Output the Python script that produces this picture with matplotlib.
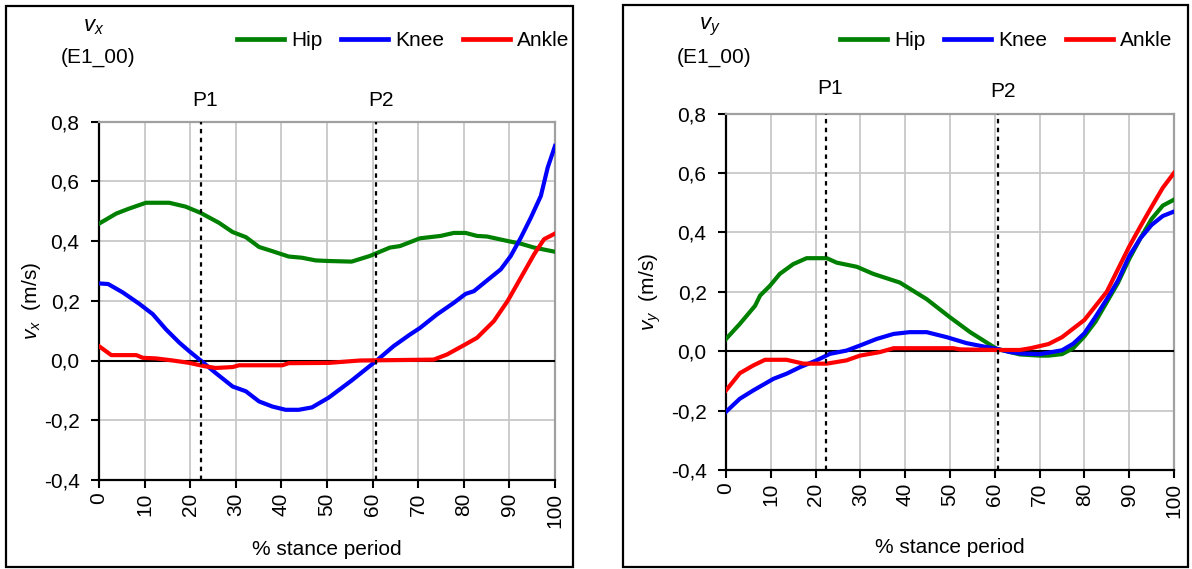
import numpy as np
import matplotlib
matplotlib.use("Agg")
import matplotlib.pyplot as plt
from matplotlib.patches import Rectangle
from matplotlib.lines import Line2D

plt.rcParams['font.family'] = ['Liberation Sans', 'DejaVu Sans']
plt.rcParams['mathtext.fontset'] = 'custom'
plt.rcParams['mathtext.rm'] = 'Liberation Sans'
plt.rcParams['mathtext.it'] = 'Liberation Sans:italic'

# ---- data (% stance period, m/s) ----
vx_hip_x = [0, 3.8, 6.7, 10.3, 15.4, 19, 22.3, 26.3, 29.3, 32.2, 35.1, 38, 41.6, 44.5, 47.5,
            50.4, 55.4, 59.4, 63.8, 66, 70.4, 74.9, 77.8, 80.4, 82.9, 85.1, 89.6, 92.5, 95.4, 100]
vx_hip_y = [0.458, 0.492, 0.509, 0.528, 0.528, 0.515, 0.494, 0.461, 0.43, 0.413, 0.38, 0.366, 0.348,
            0.344, 0.335, 0.333, 0.331, 0.35, 0.378, 0.383, 0.409, 0.417, 0.427, 0.427, 0.417, 0.415,
            0.4, 0.391, 0.378, 0.364]

vx_knee_x = [0, 2, 5.2, 8.9, 11.8, 14.7, 17.6, 19.8, 22.3, 25.6, 29.3, 32.2, 35.1, 38, 40.9, 43.8,
             46.7, 50.4, 55.4, 60.9, 64.6, 68.2, 70.4, 74.1, 77.8, 80.4, 82.2, 85.1, 88.1, 90.3,
             92.5, 94.7, 96.9, 98.4, 100]
vx_knee_y = [0.258, 0.256, 0.228, 0.189, 0.155, 0.104, 0.06, 0.031, 0.0, -0.042, -0.087, -0.103,
             -0.137, -0.154, -0.165, -0.165, -0.157, -0.124, -0.067, 0.0, 0.048, 0.087, 0.109, 0.154,
             0.193, 0.223, 0.232, 0.268, 0.305, 0.35, 0.411, 0.478, 0.551, 0.646, 0.718]

vx_ankle_x = [0, 2.7, 8.2, 9.6, 12.5, 16.2, 19.8, 23.1, 25.6, 29.3, 30.7, 40.2, 41.6, 50.4, 57.2,
              73.4, 76.3, 80, 82.9, 86.6, 89.6, 92.5, 95.4, 97.6, 100]
vx_ankle_y = [0.048, 0.018, 0.018, 0.009, 0.007, 0.0, -0.008, -0.019, -0.025, -0.022, -0.016, -0.016,
              -0.009, -0.008, 0.0, 0.003, 0.02, 0.051, 0.076, 0.132, 0.199, 0.277, 0.355, 0.406, 0.425]

vy_hip_x = [0, 3.1, 6.5, 7.6, 9.8, 12, 15, 18, 22.5, 24.7, 29.2, 32.9, 38.8, 44.8, 50, 54.5, 60.4,
            65.6, 70, 72, 75, 77.5, 80, 82.5, 85, 87.5, 90, 92.5, 95, 97.5, 100]
vy_hip_y = [0.041, 0.092, 0.153, 0.187, 0.22, 0.26, 0.293, 0.313, 0.313, 0.298, 0.284, 0.26, 0.231,
            0.175, 0.114, 0.064, 0.008, -0.011, -0.015, -0.015, -0.01, 0.01, 0.05, 0.1, 0.165, 0.23,
            0.31, 0.38, 0.445, 0.49, 0.51]

vy_knee_x = [0, 3.1, 6.1, 10.6, 13.5, 16.5, 20.2, 23.2, 26.9, 29.9, 33.6, 37.4, 41, 44.8, 49.3,
             53.7, 57.4, 60.4, 63.4, 66, 70, 72, 75, 77.5, 80, 82.5, 85, 87.5, 90, 92.5, 95, 97.5, 100]
vy_knee_y = [-0.204, -0.16, -0.132, -0.093, -0.076, -0.054, -0.031, -0.009, 0.002, 0.019, 0.041,
             0.058, 0.064, 0.064, 0.047, 0.027, 0.016, 0.008, -0.003, -0.008, -0.01, -0.005, 0.003,
             0.025, 0.06, 0.116, 0.175, 0.238, 0.32, 0.38, 0.425, 0.455, 0.47]

vy_ankle_x = [0, 3.1, 6.1, 8.7, 13.5, 17.3, 22.5, 26.9, 29.9, 34.4, 37.4, 50.7, 52.2, 60.4, 65.6,
              68, 72, 75, 80, 85, 90, 92.5, 95, 97.5, 100]
vy_ankle_y = [-0.132, -0.074, -0.048, -0.029, -0.029, -0.042, -0.042, -0.031, -0.015, -0.003, 0.01,
              0.01, 0.006, 0.004, 0.004, 0.01, 0.024, 0.047, 0.105, 0.2, 0.352, 0.42, 0.486, 0.55, 0.6]

p1, p2 = 22.3, 60.7
series_names = ['Hip', 'Knee', 'Ankle']
colors = ['#008000', '#0000ff', '#ff0000']
yticks = [-0.4, -0.2, 0.0, 0.2, 0.4, 0.6, 0.8]
xticks = list(range(0, 101, 10))

W, H = 1192, 569
fig = plt.figure(figsize=(W / 100, H / 100), dpi=100)


def fx(px):
    return px / W


def fy(py):
    return 1 - py / H


def make_panel(rect, data, comp, frame, texts, xpad):
    ax = fig.add_axes(rect)
    for (xs, ys), c in zip(data, colors):
        ax.plot(xs, ys, color=c, lw=3.0, zorder=4, solid_joinstyle='round')
    ax.axhline(0, color='black', lw=1.5, zorder=3)
    for p in (p1, p2):
        ax.axvline(p, color='black', lw=1.6, ls=(0, (2, 2)), zorder=5)
    ax.set_xlim(0, 100)
    ax.set_ylim(-0.4, 0.8)
    ax.set_xticks(xticks)
    ax.set_yticks(yticks)
    ax.set_yticklabels([('%.1f' % v).replace('.', ',') for v in yticks])
    ax.set_xticklabels([str(v) for v in xticks], rotation=90)
    ax.tick_params(axis='both', direction='out', length=6, width=1.5, labelsize=15, colors='black')
    ax.tick_params(axis='y', pad=8)
    ax.tick_params(axis='x', pad=3)
    ax.grid(True, color='#c8c8c8', lw=1.3, zorder=0)
    ax.set_axisbelow(True)
    for s in ('left', 'bottom'):
        ax.spines[s].set_color('black')
        ax.spines[s].set_linewidth(1.6)
    for s in ('top', 'right'):
        ax.spines[s].set_color('#a0a0a0')
        ax.spines[s].set_linewidth(1.6)
    ax.set_ylabel(r'$v_%s$  (m/s)' % comp, fontsize=15)
    ax.set_xlabel('% stance period', fontsize=15, labelpad=xpad)

    x0, y0, x1, y1 = frame
    fig.patches.append(Rectangle((fx(x0), fy(y1)), fx(x1) - fx(x0), fy(y0) - fy(y1),
                                 transform=fig.transFigure, fill=False, ec='black', lw=1.6))
    tx, (p1x, p1y), (p2x, p2y), legx = texts
    fig.text(fx(tx), fy(27), r'$v_%s$' % comp, ha='center', va='center', fontsize=16)
    fig.text(fx(tx + 4), fy(57), '(E1_00)', ha='center', va='center', fontsize=15)
    fig.text(fx(p1x), fy(p1y), 'P1', ha='center', va='center', fontsize=15)
    fig.text(fx(p2x), fy(p2y), 'P2', ha='center', va='center', fontsize=15)
    handles = [Line2D([], [], color=c, lw=3.4) for c in colors]
    fig.legend(handles, series_names, loc='center left', bbox_to_anchor=(fx(legx), fy(41)),
               ncol=3, frameon=False, fontsize=15, handlelength=2.25, handletextpad=0.35,
               columnspacing=0.9, borderpad=0, borderaxespad=0)
    return ax


ax1 = make_panel([fx(99), fy(480), fx(555) - fx(99), fy(121.5) - fy(480)],
                 [(vx_hip_x, vx_hip_y), (vx_knee_x, vx_knee_y), (vx_ankle_x, vx_ankle_y)],
                 'x', (6, 6, 573, 567), (94, (205, 100), (381, 101), 237), 9)
ax1.yaxis.set_label_coords(-0.122, 0.5)

ax2 = make_panel([fx(726), fy(470), fx(1174) - fx(726), fy(113.5) - fy(470)],
                 [(vy_hip_x, vy_hip_y), (vy_knee_x, vy_knee_y), (vy_ankle_x, vy_ankle_y)],
                 'y', (623, 5, 1188, 567), (710, (830, 88), (1003, 92), 840), 15)
ax2.yaxis.set_label_coords(-0.14, 0.5)

fig.savefig('out.png', dpi=100)
